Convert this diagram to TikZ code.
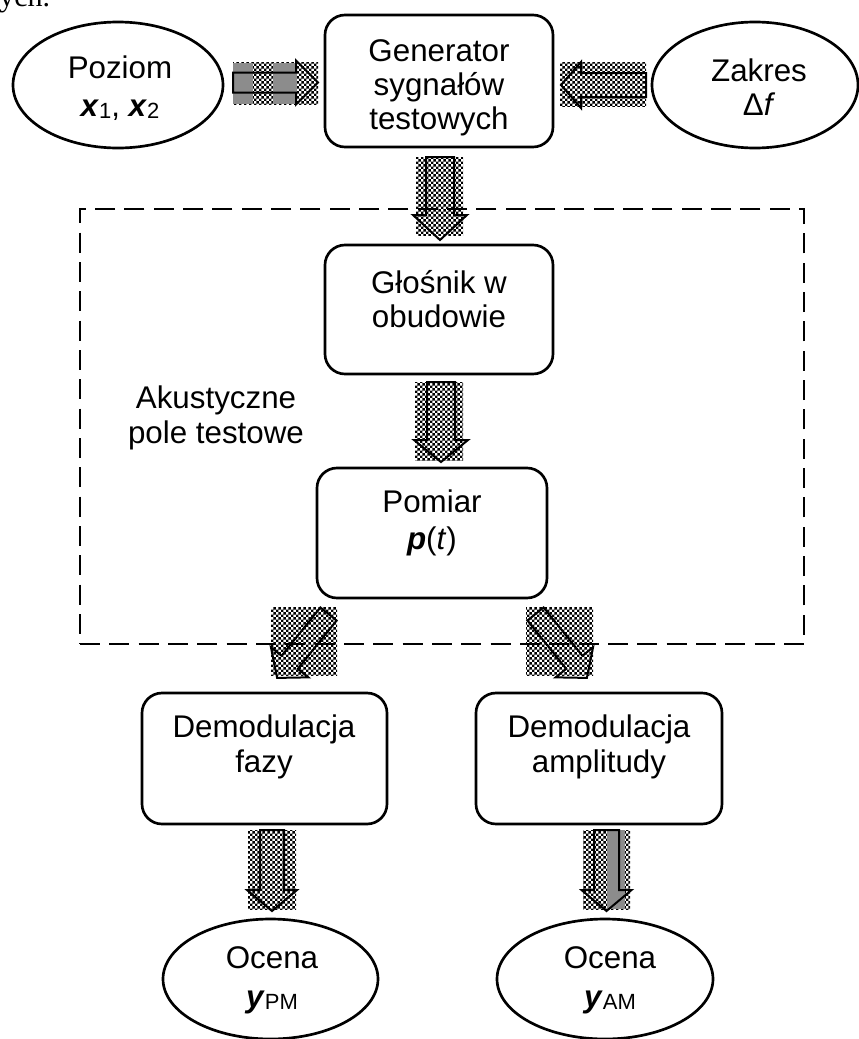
\documentclass[tikz,border=0pt]{standalone}
\usepackage{fontspec}
\setmainfont{Liberation Sans}
\newfontfamily\serifcut{Liberation Serif}
\usetikzlibrary{patterns,shapes.geometric}

\pgfdeclarepatternformonly{finechecker}{\pgfpointorigin}{\pgfqpoint{4pt}{4pt}}{\pgfqpoint{4pt}{4pt}}{%
  \pgfpathrectangle{\pgfpointorigin}{\pgfqpoint{2pt}{2pt}}%
  \pgfpathrectangle{\pgfqpoint{2pt}{2pt}}{\pgfqpoint{2pt}{2pt}}%
  \pgfusepath{fill}}

\newcommand\lowsub[1]{\raisebox{-2pt}{\fontsize{16.5}{17}\selectfont #1}}
\newcommand\bvec[1]{\textbf{\textit{#1}}}
% tail x, tail y, angle, length, shaft half width, head half width, head length
\newcommand\blockarr[7]{%
  \draw[arrline, shift={(#1,#2)}, rotate=#3]
    (0,-#5) -- (#4-#7,-#5) -- (#4-#7,-#6) -- (#4,0) -- (#4-#7,#6) -- (#4-#7,#5) -- (0,#5) -- cycle;}

\tikzset{
  box/.style={draw, line width=2pt, rounded corners=15pt, inner sep=0pt, rectangle},
  oval/.style={draw, ellipse, line width=2pt, inner sep=0pt},
  lbl/.style={align=center, inner sep=0pt, font=\fontsize{23.5}{26}\selectfont},
  checker/.style={pattern=finechecker, pattern color=black},
  dotgray/.style={fill=black!45},
  arrline/.style={draw, line width=1.5pt, line join=miter},
  field/.style={draw, line width=1.8pt, dash pattern=on 15pt off 7pt, rectangle, inner sep=0pt},
}

\begin{document}
\begin{tikzpicture}[x=0.75pt, y=-0.75pt]
\useasboundingbox (0,0) rectangle (859,1039);

% cut-off text at the top
\node[anchor=base west, inner sep=0pt, font=\serifcut\fontsize{22.5}{24}\selectfont] (cut) at (-1,6) {ych.};

% dashed test field
\node[field, minimum width=724*0.75pt, minimum height=435*0.75pt] (pole) at (442,426.5) {};

% patterned backgrounds of block arrows
\fill[checker] (233,62) rectangle (318,104);
\fill[dotgray] (233,63) rectangle (253,104);
\fill[dotgray] (273,63) rectangle (297,104);
\fill[checker] (560,62) rectangle (646,106);
\fill[checker] (416,157) rectangle (463,235);
\fill[checker] (415,382) rectangle (463,460);
\fill[checker] (271,607) rectangle (337,675);
\fill[checker] (526,607) rectangle (593,675);
\fill[checker] (248,830) rectangle (296,909);
\fill[checker] (583,830) rectangle (630,909);
\fill[dotgray] (607,830) rectangle (625,909);

% block arrow outlines
\blockarr{233}{82.5}{0}{85}{10}{22}{22}
\blockarr{646}{85}{180}{85}{12}{23}{20}
\blockarr{440}{157}{-90}{83}{14}{27}{25}
\blockarr{441}{382}{-90}{80}{14}{27}{22}
\blockarr{328.5}{614}{-128.8}{82}{10.4}{24}{20}
\blockarr{535.5}{614}{-51.2}{82}{10.4}{24}{20}
\blockarr{272}{830}{-90}{81}{12}{25}{21}
\blockarr{606.5}{830}{-90}{81}{12.5}{25}{21}

% ellipses
\node[oval, minimum width=210*0.75pt, minimum height=126*0.75pt] (poz) at (118,85) {};
\node[oval, minimum width=206*0.75pt, minimum height=126*0.75pt] (zak) at (755,85) {};
\node[oval, minimum width=215*0.75pt, minimum height=120*0.75pt] (ocPM) at (270.5,979) {};
\node[oval, minimum width=216*0.75pt, minimum height=120*0.75pt] (ocAM) at (605,979) {};

% boxes
\node[box, minimum width=228*0.75pt, minimum height=132*0.75pt] (gen) at (439,81) {};
\node[box, minimum width=228*0.75pt, minimum height=129*0.75pt] (glos) at (439,309.5) {};
\node[box, minimum width=230*0.75pt, minimum height=130*0.75pt] (pom) at (432,533) {};
\node[box, minimum width=245*0.75pt, minimum height=131*0.75pt] (demF) at (264.5,758.5) {};
\node[box, minimum width=246*0.75pt, minimum height=131*0.75pt] (demA) at (599,758.5) {};

% texts
\node[lbl, font=\fontsize{23.5}{28}\selectfont] (pozT) at (120,88) {Poziom\\\bvec{x}\lowsub{1}, \bvec{x}\lowsub{2}};
\node[lbl, font=\fontsize{23.5}{25.5}\selectfont] (zakT) at (759,87) {Zakres\\Δ\textit{f}};
\node[lbl, font=\fontsize{23.5}{25.5}\selectfont] (genT) at (439,88) {Generator\\sygnałów\\testowych};
\node[lbl] (glosT) at (439,299) {Głośnik w\\obudowie};
\node[lbl] (akuT) at (216,418) {Akustyczne\\pole testowe};
\node[lbl, font=\fontsize{23.5}{28}\selectfont] (pomT) at (432,523) {Pomiar\\\bvec{p}(\textit{t})};
\node[lbl] (demFT) at (264,747) {Demodulacja\\fazy};
\node[lbl] (demAT) at (599,747) {Demodulacja\\amplitudy};
\node[lbl, font=\fontsize{23.5}{29}\selectfont] (ocPMT) at (272,980) {Ocena\\\bvec{y}\lowsub{PM}};
\node[lbl, font=\fontsize{23.5}{29}\selectfont] (ocAMT) at (610,980) {Ocena\\\bvec{y}\lowsub{AM}};
\end{tikzpicture}
\end{document}
